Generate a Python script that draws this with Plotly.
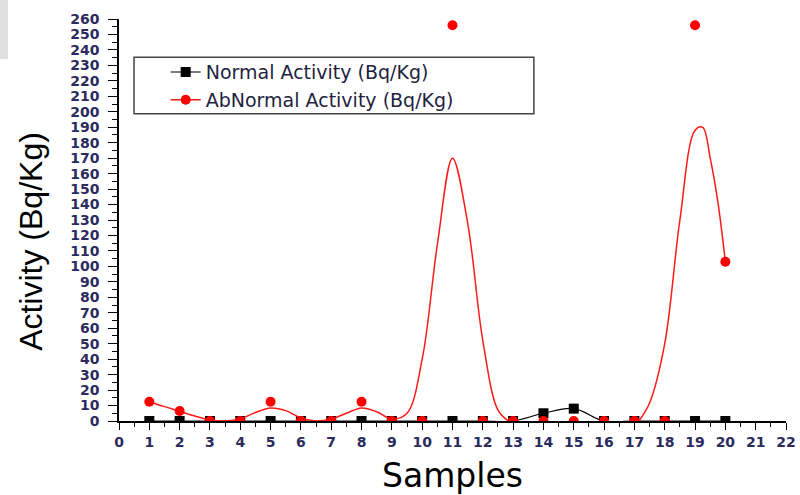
import plotly.graph_objects as go

# ---- data ----
samples = list(range(1, 21))
normal_activity = [0, 0, 0, 0, 0, 0, 0, 0, 0, 0, 0, 0, 0, 5, 8, 0, 0, 0, 0, 0]
abnormal_activity = [12.5, 6.5, 0, 0, 12.5, 0, 0, 12.5, 0, 0, 256, 0, 0, 0, 0, 0, 0, 0, 256, 103]

# smoothed (B-spline-like) red curve as drawn in the reference
abnormal_curve_x = [1, 1.5, 2, 2.5, 3, 3.5, 4, 4.5, 5, 5.5, 6, 6.5, 7, 7.5, 8, 8.5, 9, 9.5,
                    10, 10.5, 11, 11.5, 12, 12.5, 12.85, None,
                    17.15, 17.5, 18, 18.5, 19, 19.25, 19.5, 19.75, 20]
abnormal_curve_y = [12.5, 9.3, 6.3, 3.2, 0.6, 0, 1.3, 5.5, 8.4, 6.7, 2, 0, 1.3, 5, 8.4, 6, 1.3, 5,
                    40, 114, 170, 128, 52, 7, 0, None,
                    0, 11.6, 50, 130, 188, 190, 170, 142, 103]

x_ticks = list(range(0, 23))
y_ticks = list(range(0, 261, 10))

navy = "#2b2b5e"

fig = go.Figure()

fig.add_trace(go.Scatter(
    x=samples, y=normal_activity, mode="lines+markers",
    name="Normal Activity (Bq/Kg)",
    line=dict(color="black", width=1.2, shape="spline"),
    marker=dict(symbol="square", size=10, color="black"),
))
fig.add_trace(go.Scatter(
    x=abnormal_curve_x, y=abnormal_curve_y, mode="lines",
    line=dict(color="#ff1a1a", width=1.5, shape="spline", smoothing=1),
    connectgaps=False, showlegend=False, hoverinfo="skip",
))
fig.add_trace(go.Scatter(
    x=samples, y=abnormal_activity, mode="markers",
    marker=dict(symbol="circle", size=10, color="#ff0000"),
    showlegend=False, name="AbNormal Activity (Bq/Kg)",
))
# legend entry (line + marker) for the abnormal series
fig.add_trace(go.Scatter(
    x=[None], y=[None], mode="lines+markers",
    name="AbNormal Activity (Bq/Kg)",
    line=dict(color="#ff1a1a", width=1.5),
    marker=dict(symbol="circle", size=10, color="#ff0000"),
))

fig.update_layout(
    width=800, height=495,
    margin=dict(l=119, r=14, t=19, b=74),
    paper_bgcolor="white", plot_bgcolor="white",
    showlegend=True,
    legend=dict(
        x=0.07, y=0.915, xanchor="left", yanchor="top",
        bgcolor="rgba(0,0,0,0)", borderwidth=0,
        font=dict(family="DejaVu Sans", size=19, color="#1f1f3f"),
        tracegroupgap=0,
    ),
    xaxis=dict(
        range=[0, 22], tickmode="array", tickvals=x_ticks, automargin=False,
        ticks="outside", ticklen=7, tickwidth=1.2, tickcolor="black",
        showline=True, linecolor="black", linewidth=1.5,
        showgrid=False, zeroline=False,
        tickfont=dict(family="DejaVu Sans", size=14, color=navy, weight="bold"),
        minor=dict(dtick=0.5, ticks="outside", ticklen=4, tickcolor="black", showgrid=False),
    ),
    yaxis=dict(
        range=[0, 260], tickmode="array", tickvals=y_ticks, automargin=False,
        ticks="outside", ticklen=9, tickwidth=1.2, tickcolor="black",
        showline=True, linecolor="black", linewidth=1.5,
        showgrid=False, zeroline=False, ticklabelstandoff=6,
        tickfont=dict(family="DejaVu Sans", size=14, color=navy, weight="bold"),
        minor=dict(dtick=5, ticks="outside", ticklen=5, tickcolor="black", showgrid=False),
    ),
    annotations=[
        dict(text="Samples", xref="paper", yref="paper", x=0.4993, y=-0.1368,
             xanchor="center", yanchor="middle", showarrow=False,
             font=dict(family="DejaVu Sans", size=33, color="black")),
        dict(text="Activity (Bq/Kg)", xref="paper", yref="paper", x=-0.132, y=0.448,
             xanchor="center", yanchor="middle", showarrow=False, textangle=-90,
             font=dict(family="Liberation Sans", size=32, color="black")),
    ],
    shapes=[
        # legend frame
        dict(type="rect", xref="paper", yref="paper",
             x0=0.0225, x1=0.622, y0=0.764, y1=0.905,
             line=dict(color="#444444", width=1.5), fillcolor="rgba(0,0,0,0)"),
        # light grey patch in the top-left corner
        dict(type="rect", xref="paper", yref="paper",
             x0=-0.1785, x1=-0.1664, y0=0.9005, y1=1.05,
             line=dict(width=0), fillcolor="#e0e0e0"),
    ],
)

fig.write_html("out.html", config={"displayModeBar": False},
               post_script="document.body.style.margin='0';")
